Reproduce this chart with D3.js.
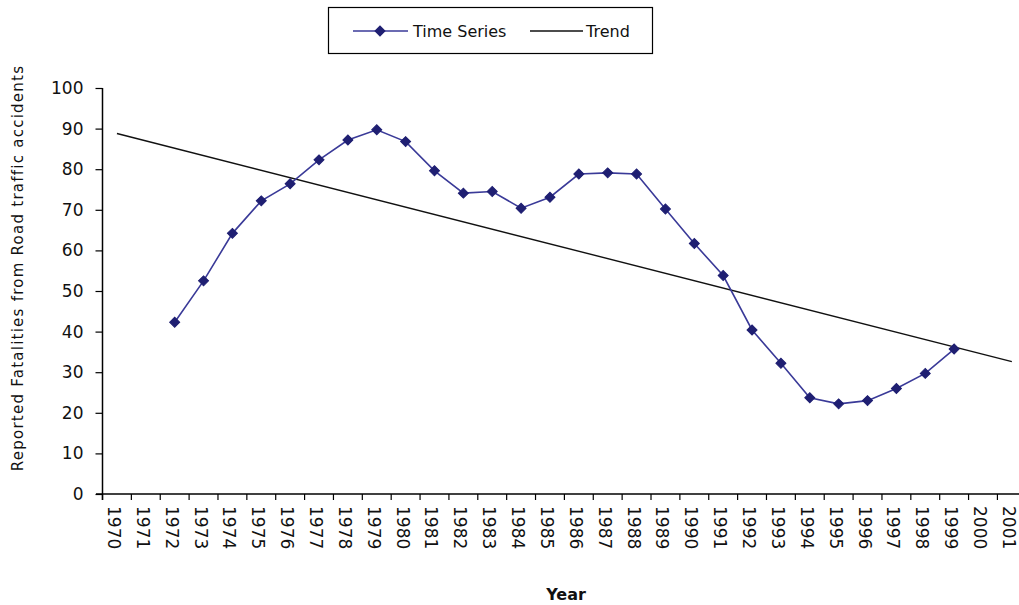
<!DOCTYPE html>
<html>
<head>
<meta charset="utf-8">
<script src="https://cdn.jsdelivr.net/npm/d3@7"></script>
<style>
  html, body { margin: 0; padding: 0; background: #fff; }
  svg { display: block; }
  text { font-family: "DejaVu Sans", Verdana, sans-serif; fill: #111; }
</style>
</head>
<body>
<script>
// ---- data ----
const years = d3.range(1970, 2002); // category labels 1970..2001
const seriesYears = [1972,1973,1974,1975,1976,1977,1978,1979,1980,1981,1982,1983,1984,1985,1986,1987,1988,1989,1990,1991,1992,1993,1994,1995,1996,1997,1998,1999];
const seriesValues = [42.3,52.5,64.2,72.2,76.4,82.3,87.2,89.7,86.8,79.6,74.1,74.5,70.4,73.1,78.8,79.1,78.8,70.2,61.7,53.8,40.4,32.2,23.7,22.2,23.0,26.0,29.7,35.7];
const trendYears = [1970, 2001];
const trendValues = [88.8, 32.6];
const yTicks = [0,10,20,30,40,50,60,70,80,90,100];

const W = 1019, H = 605;
const svg = d3.select("body").append("svg").attr("width", W).attr("height", H);

const x = d3.scaleBand().domain(years).range([102.5, 1026.3]).paddingInner(0).paddingOuter(0);
const y = d3.scaleLinear().domain([0, 100]).range([494, 88]);
const cx = d => x(d) + x.bandwidth() / 2;

// y axis
const yAxis = svg.append("g").attr("transform", "translate(102.5,0)")
  .call(d3.axisLeft(y).tickValues(yTicks).tickSize(7).tickPadding(12));
yAxis.select(".domain").attr("stroke", "#000").attr("stroke-width", 1.5).attr("d", "M0,88V500");
yAxis.selectAll(".tick line").attr("stroke", "#000").attr("stroke-width", 1.2);
yAxis.selectAll(".tick text").style("font-size", "17px").attr("fill", "#111");

// x axis (ticks at category boundaries)
const xg = svg.append("g").attr("transform", "translate(0,494)");
xg.append("line").attr("x1", 96).attr("x2", 1030).attr("y1", 0).attr("y2", 0)
  .attr("stroke", "#000").attr("stroke-width", 1.5);
xg.selectAll("line.tk").data(years).enter().append("line").attr("class", "tk")
  .attr("x1", d => x(d)).attr("x2", d => x(d)).attr("y1", 0).attr("y2", 6)
  .attr("stroke", "#000").attr("stroke-width", 1.2);
xg.selectAll("text.lbl").data(years).enter().append("text").attr("class", "lbl")
  .attr("transform", d => `translate(${cx(d) - 9},12) rotate(90)`)
  .attr("text-anchor", "start")
  .style("font-size", "17px")
  .text(d => d);

// trend line
svg.append("line")
  .attr("x1", cx(trendYears[0])).attr("y1", y(trendValues[0]))
  .attr("x2", cx(trendYears[1])).attr("y2", y(trendValues[1]))
  .attr("stroke", "#111").attr("stroke-width", 1.4);

// time series
const pts = seriesYears.map((yr, i) => [cx(yr), y(seriesValues[i])]);
svg.append("path").attr("d", d3.line()(pts))
  .attr("fill", "none").attr("stroke", "#3a3a98").attr("stroke-width", 1.6);
svg.selectAll("path.mk").data(pts).enter().append("path").attr("class", "mk")
  .attr("transform", d => `translate(${d[0]},${d[1]}) rotate(45)`)
  .attr("d", d3.symbol().type(d3.symbolSquare).size(50)())
  .attr("fill", "#1f1f72").attr("stroke", "#1f1f72").attr("stroke-width", 1);

// axis titles
svg.append("text")
  .attr("transform", "translate(23,268) rotate(-90)")
  .attr("text-anchor", "middle")
  .style("font-size", "15px").style("letter-spacing", "1.25px")
  .text("Reported Fatalities from Road traffic accidents");
svg.append("text")
  .attr("x", 566).attr("y", 600)
  .attr("text-anchor", "middle")
  .style("font-size", "16px").style("font-weight", "bold")
  .text("Year");

// legend
const lg = svg.append("g");
lg.append("rect").attr("x", 328.5).attr("y", 7.5).attr("width", 324).attr("height", 46)
  .attr("fill", "#fff").attr("stroke", "#000").attr("stroke-width", 1.2);
lg.append("line").attr("x1", 353).attr("x2", 408).attr("y1", 31).attr("y2", 31)
  .attr("stroke", "#3a3a98").attr("stroke-width", 1.6);
lg.append("path").attr("transform", "translate(380,31) rotate(45)")
  .attr("d", d3.symbol().type(d3.symbolSquare).size(50)())
  .attr("fill", "#1f1f72").attr("stroke", "#1f1f72");
lg.append("text").attr("x", 413).attr("y", 37).style("font-size", "16px").text("Time Series");
lg.append("line").attr("x1", 530).attr("x2", 583).attr("y1", 31).attr("y2", 31)
  .attr("stroke", "#111").attr("stroke-width", 1.4);
lg.append("text").attr("x", 586).attr("y", 37).style("font-size", "16px").text("Trend");
</script>
</body>
</html>
